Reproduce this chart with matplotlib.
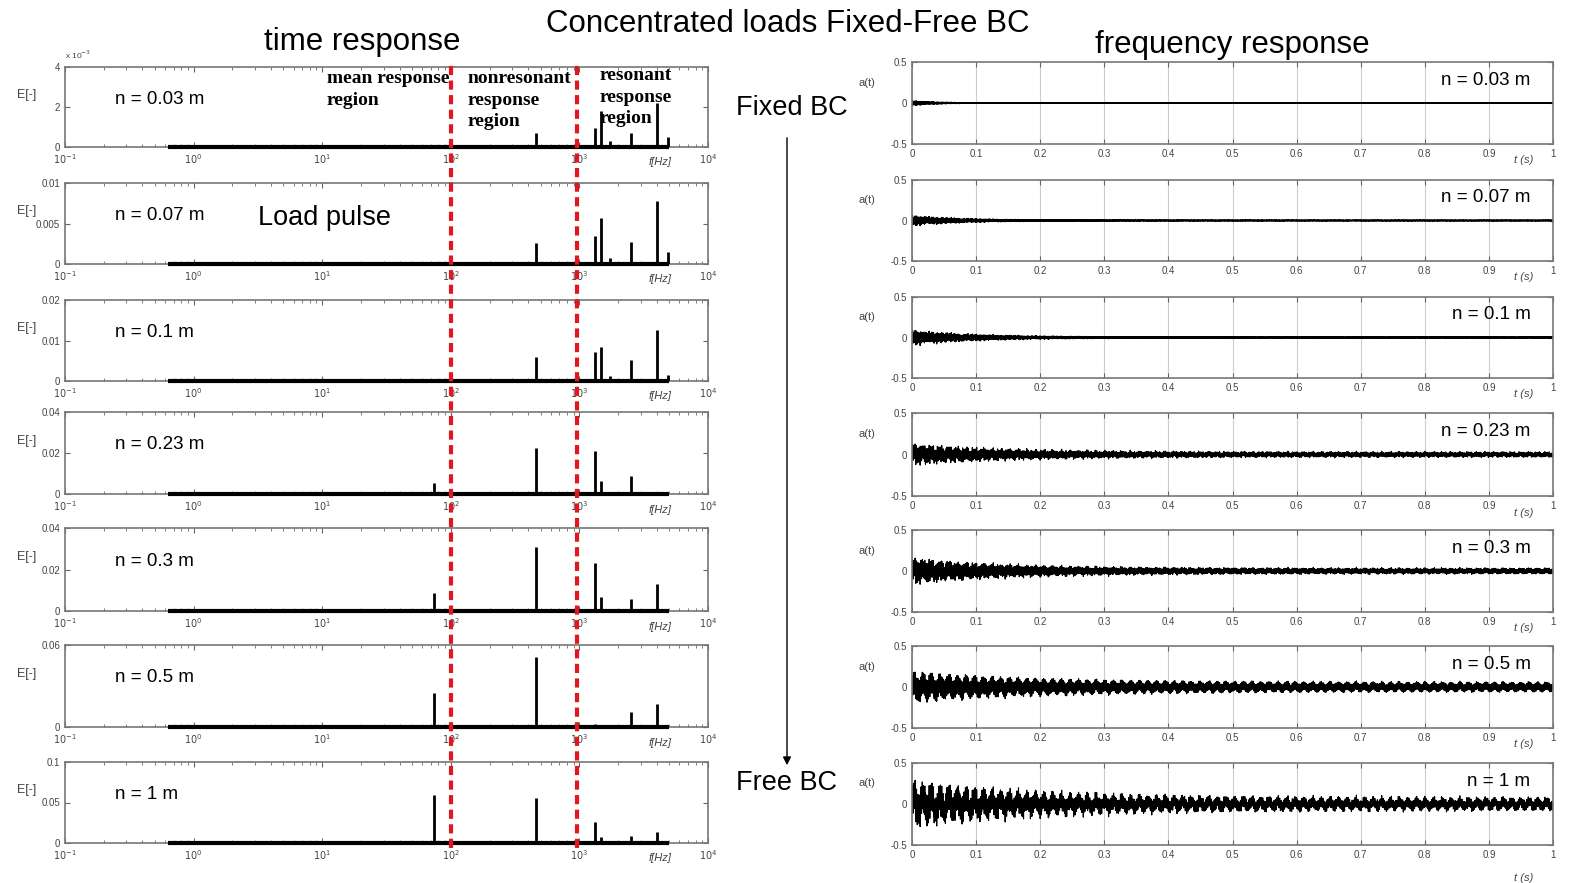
import numpy as np
import matplotlib
matplotlib.use("Agg")
import matplotlib.pyplot as plt
from matplotlib.lines import Line2D

plt.rcParams['font.family'] = ['Liberation Sans', 'DejaVu Sans']

# panel labels
n_labels = ["n = 0.03 m", "n = 0.07 m", "n = 0.1 m", "n = 0.23 m",
            "n = 0.3 m", "n = 0.5 m", "n = 1 m"]

# spectral peaks (Hz) and their heights E[-] per panel
peak_freqs = [74, 459, 1320, 1470, 1730, 2510, 4010, 4890]
peaks_003 = [0, 0.0007, 0.00095, 0.0018, 0.0003, 0.0007, 0.0022, 0.0005]
peaks_007 = [0, 0.0026, 0.0035, 0.0057, 0.0007, 0.0027, 0.0078, 0.0015]
peaks_01 = [0.0005, 0.006, 0.0072, 0.0084, 0.0012, 0.0052, 0.0126, 0.0015]
peaks_023 = [0.0054, 0.0224, 0.021, 0.0063, 0, 0.0088, 0, 0]
peaks_03 = [0.0087, 0.031, 0.023, 0.0067, 0, 0.0058, 0.013, 0]
peaks_05 = [0.025, 0.051, 0.002, 0.001, 0, 0.011, 0.017, 0]
peaks_1 = [0.059, 0.056, 0.026, 0.008, 0, 0.009, 0.0136, 0]
all_peaks = [peaks_003, peaks_007, peaks_01, peaks_023, peaks_03, peaks_05, peaks_1]

# spectrum baseline range (Hz)
f_range = [0.63, 5000]

# y limits and ticks of the spectra
e_max = [0.004, 0.01, 0.02, 0.04, 0.04, 0.06, 0.1]
e_ticks = [[0, 0.002, 0.004], [0, 0.005, 0.01], [0, 0.01, 0.02], [0, 0.02, 0.04],
           [0, 0.02, 0.04], [0, 0.06], [0, 0.05, 0.1]]
e_ticklabels = [['0', '2', '4'], ['0', '0.005', '0.01'], ['0', '0.01', '0.02'],
                ['0', '0.02', '0.04'], ['0', '0.02', '0.04'], ['0', '0.06'],
                ['0', '0.05', '0.1']]

# region boundaries (Hz)
bounds = [100, 950]

# envelope of time signals: start amplitude, final amplitude, decay time (s)
amp_start = [0.04, 0.08, 0.12, 0.16, 0.2, 0.22, 0.36]
amp_end = [0.004, 0.008, 0.012, 0.04, 0.045, 0.07, 0.1]
decay = [0.04, 0.08, 0.1, 0.15, 0.15, 0.2, 0.2]

W, H = 1570, 883
fig = plt.figure(figsize=(W / 100, H / 100), dpi=100)

left_rows = [(67, 147), (183, 264), (300, 381), (412, 494), (528, 611), (645, 727), (762, 843)]
right_rows = [(62, 144), (180, 261), (297, 378), (413, 496), (530, 612), (646, 728), (763, 845)]

def box(x0, x1, top, bot):
    return [x0 / W, 1 - bot / H, (x1 - x0) / W, (bot - top) / H]

tick_kw = dict(direction='in', labelsize=7, labelcolor='#444', color='#666')
t = np.linspace(0, 1, 40000)
left_axes = []
for i in range(7):
    # spectrum
    ax = fig.add_axes(box(65, 708, *left_rows[i]))
    ax.set_xscale('log')
    ax.set_xlim(0.1, 1e4)
    ax.set_ylim(0, e_max[i])
    ax.plot(f_range, [0, 0], color='black', lw=3, solid_capstyle='butt',
            clip_on=False, zorder=4)
    ax.vlines(peak_freqs, 0, all_peaks[i], color='black', lw=2, zorder=4)
    ax.set_xticks([0.1, 1, 10, 100, 1000, 10000])
    ax.set_xticklabels(['$10^{-1}$', '$10^{0}$', '$10^{1}$', '$10^{2}$', '$10^{3}$', '$10^{4}$'])
    ax.set_yticks(e_ticks[i])
    ax.set_yticklabels(e_ticklabels[i])
    ax.tick_params(which='both', top=True, right=True, **tick_kw)
    ax.tick_params(which='minor', length=2)
    for s in ax.spines.values():
        s.set_color('#777')
        s.set_linewidth(1.2)
    ax.text(0.925, -0.19, 'f[Hz]', transform=ax.transAxes, fontsize=8,
            style='italic', color='#444', ha='center', va='center')
    ax.text(-0.06, 0.65, 'E[-]', transform=ax.transAxes, fontsize=9,
            color='#444', ha='center', va='center')
    ax.text(0.078, 0.6, n_labels[i], transform=ax.transAxes, fontsize=13.5,
            ha='left', va='center')
    left_axes.append(ax)

    # time signal built from the modal peaks
    w = np.sqrt(np.array(all_peaks[i]))
    carrier = sum(wk * np.sin(2 * np.pi * fk * t) for wk, fk in zip(w, peak_freqs))
    carrier = carrier / np.abs(carrier).max()
    env = amp_end[i] + (amp_start[i] - amp_end[i]) * np.exp(-t / decay[i])
    ax2 = fig.add_axes(box(912, 1553, *right_rows[i]))
    ax2.plot(t, env * carrier, color='black', lw=0.8)
    ax2.set_xlim(0, 1)
    ax2.set_ylim(-0.5, 0.5)
    ax2.set_xticks(np.arange(0, 1.01, 0.1))
    ax2.set_xticklabels(['0', '0.1', '0.2', '0.3', '0.4', '0.5', '0.6', '0.7', '0.8', '0.9', '1'])
    ax2.set_yticks([-0.5, 0, 0.5])
    ax2.set_yticklabels(['-0.5', '0', '0.5'])
    ax2.tick_params(top=True, right=True, **tick_kw)
    ax2.grid(axis='x', color='#ccc', lw=0.8)
    for s in ax2.spines.values():
        s.set_color('#777')
        s.set_linewidth(1.2)
    ax2.text(-0.07, 0.75, 'a(t)', transform=ax2.transAxes, fontsize=8,
             color='#444', ha='center', va='center')
    ax2.text(0.965, 0.78, n_labels[i], transform=ax2.transAxes, fontsize=13.5,
             ha='right', va='center')
    ty = -0.2 if i < 6 else -0.4
    ax2.text(0.955, ty, 't (s)', transform=ax2.transAxes, fontsize=8,
             style='italic', color='#444', ha='center', va='center')

left_axes[0].text(0.0, 1.07, r'x 10$^{-3}$', transform=left_axes[0].transAxes,
                  fontsize=6, color='#444', ha='left', va='bottom')

# red dashed region boundaries spanning all spectra
inv = fig.transFigure.inverted()
for fb in bounds:
    xf = inv.transform(left_axes[0].transData.transform((fb, 0)))[0]
    fig.add_artist(Line2D([xf, xf], [1 - 848 / H, 1 - 65 / H], color='#e3161d',
                          lw=3, dashes=(2.2, 1.3)))

# region labels
serif = dict(family='Liberation Serif', fontweight='bold', fontsize=14,
             linespacing=1.35, va='top', ha='left')
fig.text(327 / W, 1 - 70 / H, 'mean response\nregion', **serif)
fig.text(468 / W, 1 - 70 / H, 'nonresonant\nresponse\nregion', **serif)
fig.text(600 / W, 1 - 67 / H, 'resonant\nresponse\nregion', **serif)

fig.text(788 / W, 1 - 24 / H, 'Concentrated loads Fixed-Free BC', fontsize=22.5,
         ha='center', va='center')
fig.text(362 / W, 1 - 42 / H, 'time response', fontsize=22.5, ha='center', va='center')
fig.text(1232 / W, 1 - 45 / H, 'frequency response', fontsize=22.5, ha='center', va='center')
fig.text(325 / W, 1 - 218 / H, 'Load pulse', fontsize=19.5, ha='center', va='center')
fig.text(792 / W, 1 - 108 / H, 'Fixed BC', fontsize=19.5, ha='center', va='center')
fig.text(787 / W, 1 - 783 / H, 'Free BC', fontsize=19.5, ha='center', va='center')
fig.add_artist(matplotlib.patches.FancyArrowPatch(
    (787 / W, 1 - 135 / H), (787 / W, 1 - 768 / H), transform=fig.transFigure,
    arrowstyle='-|>', mutation_scale=12, color='black', lw=1))

fig.savefig('out.png', dpi=100)
